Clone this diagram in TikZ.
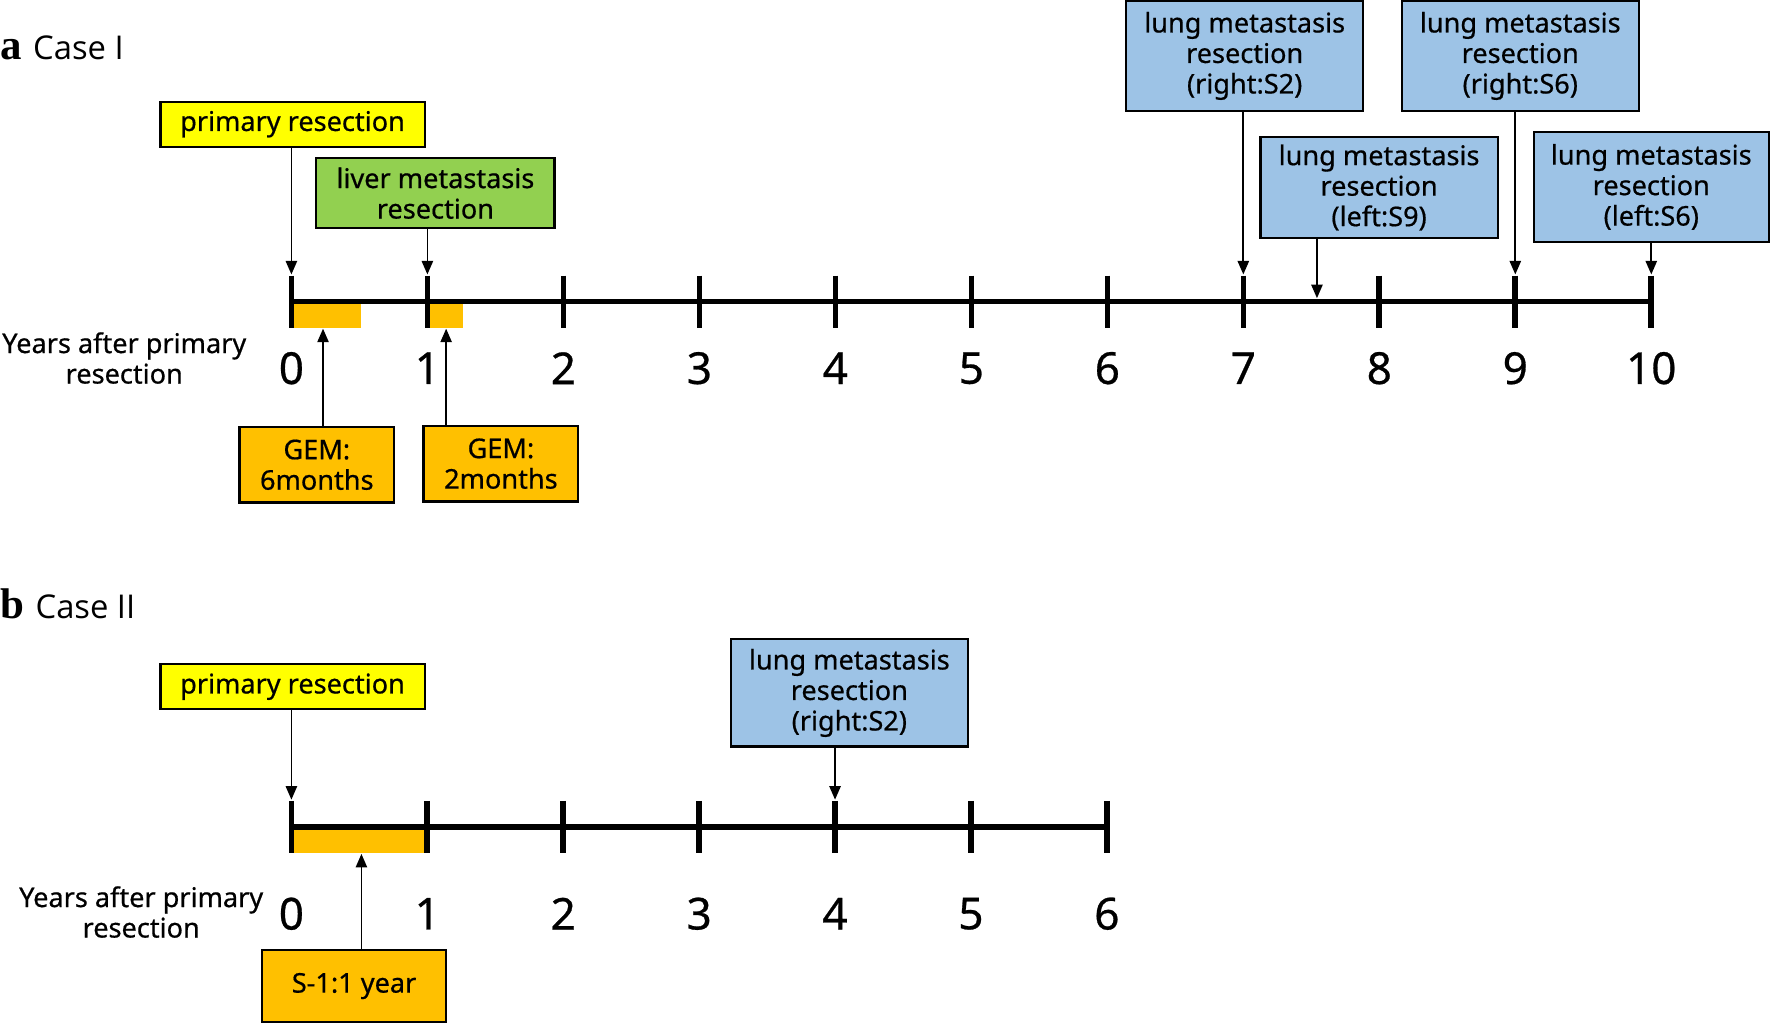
\documentclass[tikz,border=0pt]{standalone}
\usepackage{fontspec}
\setmainfont{Noto Sans}[FakeBold=0.6]
\newfontfamily\serifb{Liberation Serif}
\newfontfamily\ttlfont{Open Sans}
\usetikzlibrary{arrows.meta}
\definecolor{yel}{HTML}{FFFF00}
\definecolor{grn}{HTML}{92D050}
\definecolor{org}{HTML}{FFC000}
\definecolor{blu}{HTML}{9DC3E6}
\begin{document}
\begin{tikzpicture}[x=0.5pt,y=-0.5pt,
  box/.style={draw=black, line width=1pt, align=center, inner sep=0pt, font=\fontsize{12}{13.5}\selectfont},
  arr/.style={line width=0.75pt, -{Triangle[width=5pt,length=6pt]}},
  axisline/.style={line width=2.5pt},
  tickmark/.style={line width=2.5pt},
  num/.style={font=\fontsize{19.5}{20}\selectfont, inner sep=0pt},
  ylab/.style={align=center, font=\fontsize{12}{13.5}\selectfont, inner sep=0pt},
  ttl/.style={anchor=west, inner sep=0pt},
]
\useasboundingbox (0,0) rectangle (1568,906);

% ---------------- Panel a ----------------
\node[ttl] (titA) at (0,42) {{\serifb\bfseries\fontsize{19}{20}\selectfont a}\hspace{5pt}{\ttlfont\fontsize{14.5}{16}\selectfont Case I}};

\fill[org] (258,267) rectangle (320,290);
\fill[org] (379,267) rectangle (410,290);
\draw[axisline] (258,267) -- (1462,267);
\foreach \k in {0,...,10} {
  \draw[tickmark] ({258+120.4*\k},244) -- ({258+120.4*\k},290);
  \node[num] (na\k) at ({258+120.4*\k},326) {\k};
  \coordinate (tka\k) at ({258+120.4*\k},243);
}
\node[ylab] (ylA) at (110,317) {Years after primary\\resection};

\node[box, fill=yel, minimum width=117pt, minimum height=20pt] (prA) at (259,110) {\raisebox{-1pt}{primary resection}};
\node[box, fill=grn, minimum width=105.5pt, minimum height=31pt] (livA) at (385.5,171) {liver metastasis\\resection};
\node[box, fill=org, minimum width=68.5pt, minimum height=33.5pt] (gem6) at (280.5,411.5) {GEM:\\6months};
\node[box, fill=org, minimum width=68.5pt, minimum height=33.5pt] (gem2) at (443.5,410.5) {GEM:\\2months};
\node[box, fill=blu, minimum width=105pt, minimum height=48.5pt] (lRS2) at (1102,49.5) {lung metastasis\\resection\\(right:S2)};
\node[box, fill=blu, minimum width=105pt, minimum height=45pt] (lLS9) at (1221,166) {lung metastasis\\resection\\(left:S9)};
\node[box, fill=blu, minimum width=105pt, minimum height=48.5pt] (lRS6) at (1346,49.5) {lung metastasis\\resection\\(right:S6)};
\node[box, fill=blu, minimum width=104pt, minimum height=48.5pt] (lLS6) at (1462,165.5) {lung metastasis\\resection\\(left:S6)};

\coordinate (g6) at (286,291);
\coordinate (g2) at (395,291);
\coordinate (s9) at (1166,264);

\draw[arr] (prA.south -| tka0) -- (tka0);
\draw[arr] (livA.south -| tka1) -- (tka1);
\draw[arr] (gem6.north -| g6) -- (g6);
\draw[arr] (gem2.north -| g2) -- (g2);
\draw[arr] (lRS2.south -| tka7) -- (tka7);
\draw[arr] (lLS9.south -| s9) -- (s9);
\draw[arr] (lRS6.south -| tka9) -- (tka9);
\draw[arr] (lLS6.south -| tka10) -- (tka10);

% ---------------- Panel b ----------------
\node[ttl] (titB) at (0,535) {{\serifb\bfseries\fontsize{19}{20}\selectfont b}\hspace{5pt}{\ttlfont\fontsize{14.5}{16}\selectfont Case II}};

\fill[org] (258,732) rectangle (378,755);
\draw[axisline] (258,732) -- (980,732);
\foreach \k in {0,...,6} {
  \draw[tickmark] ({258+120.33*\k},709) -- ({258+120.33*\k},755);
  \node[num] (nb\k) at ({258+120.33*\k},809) {\k};
  \coordinate (tkb\k) at ({258+120.33*\k},708);
}
\node[ylab] (ylB) at (125,807.5) {Years after primary\\resection};

\node[box, fill=yel, minimum width=117pt, minimum height=20pt] (prB) at (259,608) {\raisebox{-1pt}{primary resection}};
\node[box, fill=blu, minimum width=105pt, minimum height=47.5pt] (lB) at (752,613.5) {lung metastasis\\resection\\(right:S2)};
\node[box, fill=org, minimum width=81.5pt, minimum height=32pt] (s1) at (313.5,873) {S-1:1 year};

\coordinate (s1t) at (320,756);
\draw[arr] (prB.south -| tkb0) -- (tkb0);
\draw[arr] (lB.south -| tkb4) -- (tkb4);
\draw[arr] (s1.north -| s1t) -- (s1t);
\end{tikzpicture}
\end{document}
